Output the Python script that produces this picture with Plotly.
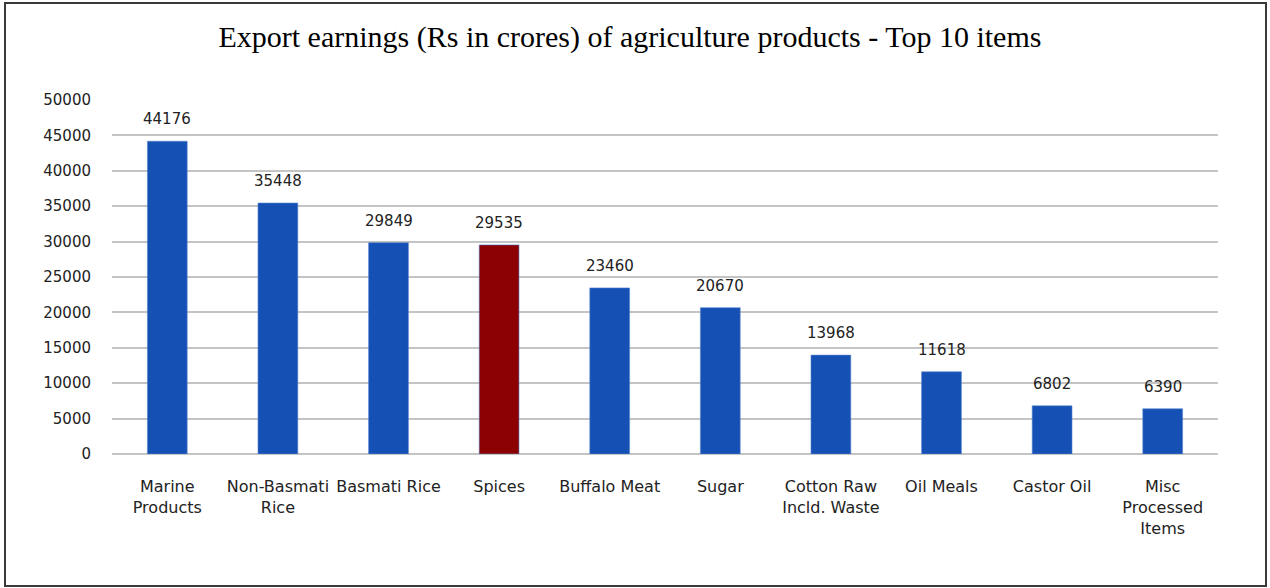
import plotly.graph_objects as go

categories = ["Marine<br>Products", "Non-Basmati<br>Rice", "Basmati Rice", "Spices",
              "Buffalo Meat", "Sugar", "Cotton Raw<br>Incld. Waste", "Oil Meals",
              "Castor Oil", "Misc<br>Processed<br>Items"]
values = [44176, 35448, 29849, 29535, 23460, 20670, 13968, 11618, 6802, 6390]
highlight = "Spices"
title = "Export earnings (Rs in crores) of agriculture products - Top 10 items"
y_ticks = list(range(0, 50001, 5000))

BLUE = "#1550B5"
RED = "#8B0000"
colors = [RED if c == highlight else BLUE for c in categories]

W, H = 1270, 588
ml, mr, mt, mb = 112, 52, 100, 134

fig = go.Figure()
fig.add_trace(go.Bar(
    x=categories, y=values,
    marker=dict(color=colors, line=dict(color="#5a86d0", width=0.6)),
    width=0.36,
    hoverinfo="x+y",
))

for c, v in zip(categories, values):
    fig.add_annotation(x=c, y=v, text=str(v), showarrow=False, yanchor="bottom",
                       yshift=11, font=dict(family="DejaVu Sans", size=15, color="#222"))

fig.update_layout(
    width=W, height=H,
    margin=dict(l=ml, r=mr, t=mt, b=mb),
    paper_bgcolor="white", plot_bgcolor="white",
    showlegend=False,
    title=dict(text=title, x=0.496, xref="container", xanchor="center", y=1 - 36 / H, yanchor="middle",
               font=dict(family="Liberation Serif", size=30, color="#000")),
    font=dict(family="DejaVu Sans", size=15, color="#222"),
    bargap=0.64,
)
fig.update_xaxes(showgrid=False, showline=False, ticks="", ticklabelstandoff=21,
                 tickfont=dict(family="DejaVu Sans", size=16, color="#222"), tickangle=0)
fig.update_yaxes(range=[0, 50000], tickvals=y_ticks, tickformat="d", showgrid=True, gridcolor="#c4c4c4",
                 gridwidth=1.5, zeroline=True, zerolinecolor="#c4c4c4", zerolinewidth=1.5,
                 showline=False, ticks="", ticklabelstandoff=20,
                 tickfont=dict(family="DejaVu Sans", size=15, color="#222"))

# outer border
pw = W - ml - mr
ph = H - mt - mb
x0 = (5 - ml) / pw
x1 = (1266 - ml) / pw
y0 = (H - mb - 586) / ph
y1 = (H - mb - 3) / ph
fig.add_shape(type="rect", xref="paper", yref="paper", x0=x0, x1=x1, y0=y0, y1=y1,
              line=dict(color="#3a3a3a", width=2), fillcolor="rgba(0,0,0,0)", layer="above")

fig.write_html("out.html", config={"displayModeBar": False},
               post_script="document.body.style.margin='0';document.body.style.overflow='hidden';")
